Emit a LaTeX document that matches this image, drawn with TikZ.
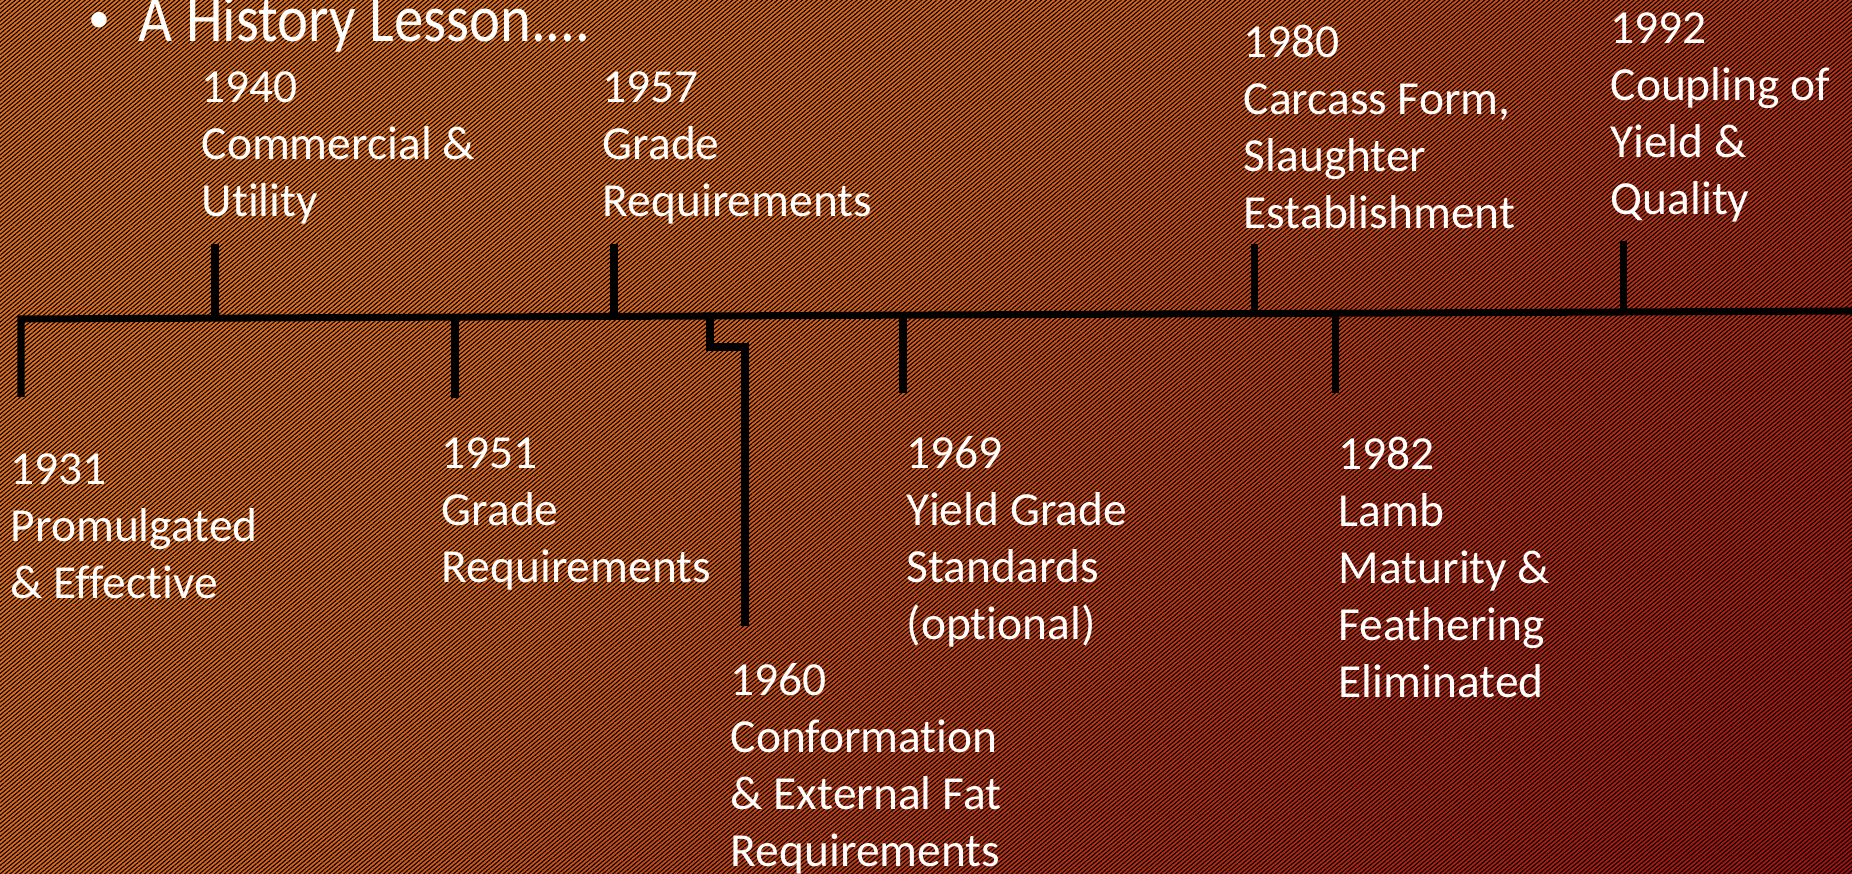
\documentclass[tikz,border=0pt]{standalone}
\usepackage{fontspec}
\setmainfont{Carlito}[Ligatures=NoCommon, Numbers=Lining]
\newfontfamily\titlefont{Carlito}[Ligatures=NoCommon, FakeStretch=0.88]
\usetikzlibrary{patterns.meta}
\definecolor{bgOrange}{RGB}{224,112,34}
\definecolor{bgAmber}{RGB}{214,98,30}
\definecolor{bgRust}{RGB}{184,52,24}
\definecolor{bgRed}{RGB}{162,20,18}
\pgfdeclarehorizontalshading{slideBg}{100bp}{color(0bp)=(bgOrange); color(30bp)=(bgOrange); color(45bp)=(bgAmber); color(63bp)=(bgRust); color(85bp)=(bgRed); color(100bp)=(bgRed)}

\begin{document}
\begin{tikzpicture}[x=0.01cm, y=-0.01cm,
    event/.style={anchor=north west, inner sep=0pt, align=left, text=white, font=\fontsize{13.5}{16.2}\selectfont},
    tick/.style={line width=2pt, line join=miter}]
    \useasboundingbox (0,0) rectangle (1852,874);
    \shade[shading=slideBg, shading angle=-45] (0,0) rectangle (1852,874);
    \fill[pattern={Lines[angle=40,distance=0.032cm,line width=0.011cm]}, pattern color=black] (0,0) rectangle (1852,874);
    % title
    \node[anchor=base, inner sep=0pt, text=white, font=\fontsize{12.5}{15}\selectfont] (bullet) at (99,33) {•};
    \node[anchor=base west, inner sep=0pt, text=white, font=\titlefont\fontsize{19}{23}\selectfont] (title) at (138,42) {A History Lesson....};
    % timeline
    \coordinate (start) at (21,319);
    \coordinate (finish) at (1852,311);
    \coordinate (y1940) at (215,318);
    \coordinate (y1951) at (455,317);
    \coordinate (y1957) at (614,316.5);
    \coordinate (y1960) at (710,316);
    \coordinate (y1969) at (903,315);
    \coordinate (y1980) at (1254,313.5);
    \coordinate (y1982) at (1335,313.3);
    \coordinate (y1992) at (1623,312);
    \coordinate (tip1931) at (21,397);
    \coordinate (tip1940) at (215,244);
    \coordinate (tip1951) at (455,398);
    \coordinate (tip1957) at (614,244);
    \coordinate (step1960) at (745,347);
    \coordinate (tip1960) at (745,626);
    \coordinate (tip1969) at (903,393);
    \coordinate (tip1980) at (1254,244);
    \coordinate (tip1982) at (1335,393);
    \coordinate (tip1992) at (1623,241);
    \draw[tick] (tip1931) -- (start) -- (finish);
    \draw[tick] (y1940) -- (tip1940);
    \draw[tick] (y1951) -- (tip1951);
    \draw[tick] (y1957) -- (tip1957);
    \draw[tick] (y1960) |- (step1960) -- (tip1960);
    \draw[tick] (y1969) -- (tip1969);
    \draw[tick] (y1980) -- (tip1980);
    \draw[tick] (y1982) -- (tip1982);
    \draw[tick] (y1992) -- (tip1992);
    % events
    \node[event] (e1931) at (10,453) {1931\\Promulgated\\\& Effective};
    \node[event] (e1940) at (201,71) {1940\\Commercial \&\\Utility};
    \node[event] (e1951) at (441,437) {1951\\Grade\\Requirements};
    \node[event] (e1957) at (602,71) {1957\\Grade\\Requirements};
    \node[event] (e1960) at (730,663) {1960\\Conformation\\\& External Fat\\Requirements};
    \node[event] (e1969) at (906,436) {1969\\Yield Grade\\Standards\\(optional)};
    \node[event] (e1980) at (1243,24) {1980\\Carcass Form,\\Slaughter\\Establishment};
    \node[event] (e1982) at (1338,436) {1982\\Lamb\\Maturity \&\\Feathering\\Eliminated};
    \node[event] (e1992) at (1610,12) {1992\\Coupling of\\Yield \&\\Quality};
\end{tikzpicture}
\end{document}
